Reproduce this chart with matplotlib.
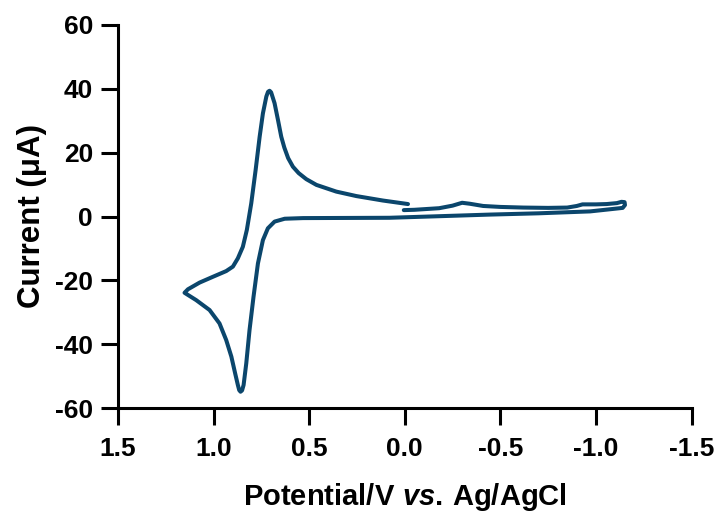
import matplotlib.pyplot as plt

plt.rcParams['font.family'] = ['Liberation Sans', 'DejaVu Sans']
plt.rcParams['font.weight'] = 'bold'
plt.rcParams['axes.unicode_minus'] = False
plt.rcParams['mathtext.fontset'] = 'custom'
plt.rcParams['mathtext.it'] = 'Liberation Sans:italic:bold'
plt.rcParams['mathtext.rm'] = 'Liberation Sans:bold'

# CV scan: 0 V -> -1.15 V -> +1.15 V -> 0 V
potential = [0.005, -0.05, -0.18, -0.25, -0.30, -0.34, -0.41, -0.50, -0.62, -0.75,
             -0.85, -0.90, -0.93, -1.00, -1.056, -1.11, -1.134, -1.15, -1.152, -1.14,
             -1.125, -0.97, -0.70, -0.445, -0.236, 0.08, 0.30, 0.532, 0.628, 0.681,
             0.716, 0.742, 0.768, 0.791, 0.812, 0.829, 0.843, 0.851, 0.859, 0.866,
             0.873, 0.887, 0.907, 0.934, 0.969, 1.021, 1.091, 1.152,
             1.134, 1.073, 1.004, 0.934, 0.899, 0.873, 0.847, 0.826, 0.803, 0.780,
             0.759, 0.742, 0.724, 0.715, 0.707, 0.699, 0.681, 0.663, 0.646, 0.630,
             0.610, 0.585, 0.555, 0.515, 0.462, 0.358, 0.253, 0.114, -0.017]
current = [2.0, 2.1, 2.6, 3.4, 4.3, 4.0, 3.3, 3.0, 2.8, 2.7,
           2.8, 3.3, 3.8, 3.8, 3.9, 4.2, 4.6, 4.5, 3.6, 2.7,
           2.6, 1.6, 1.0, 0.6, 0.2, -0.4, -0.45, -0.5, -0.7, -1.6,
           -3.7, -7.4, -14.7, -25.1, -35.6, -46.0, -52.8, -54.5, -54.9, -54.4,
           -52.8, -49.2, -43.9, -38.7, -33.5, -29.3, -26.2, -23.9,
           -22.8, -20.7, -18.9, -17.1, -15.7, -13.1, -9.5, -4.2, 4.1, 14.6,
           25.0, 32.3, 37.6, 39.1, 39.4, 38.9, 35.5, 30.2, 25.0, 21.6,
           18.3, 15.6, 13.6, 11.7, 9.9, 7.8, 6.4, 5.0, 3.9]

xticks = [1.5, 1.0, 0.5, 0.0, -0.5, -1.0, -1.5]
yticks = [-60, -40, -20, 0, 20, 40, 60]

fig = plt.figure(figsize=(7.22, 5.12), dpi=100)
ax = fig.add_axes([118 / 722, 104 / 512, (691.5 - 118) / 722, (408 - 25) / 512])

ax.plot(potential, current, color='#0b466c', linewidth=2.9,
        solid_joinstyle='round', solid_capstyle='round')

ax.set_xlim(1.5, -1.5)
ax.set_ylim(-60, 60)
ax.set_xticks(xticks)
ax.set_xticklabels(['%.1f' % v for v in xticks])
ax.set_yticks(yticks)

for side in ['top', 'right']:
    ax.spines[side].set_visible(False)
for side in ['left', 'bottom']:
    ax.spines[side].set_linewidth(2.2)
ax.tick_params(width=2.2, length=12, labelsize=19)
ax.tick_params(axis='x', pad=9)
ax.tick_params(axis='y', pad=6)

ax.set_xlabel(r'$\mathrm{Potential/V}\ \mathit{vs.}\,\mathrm{Ag/AgCl}$', fontsize=21, labelpad=14)
ax.set_ylabel('Current (μA)', fontsize=22.5, fontweight='bold', labelpad=6)

fig.savefig('out.png', dpi=100)
